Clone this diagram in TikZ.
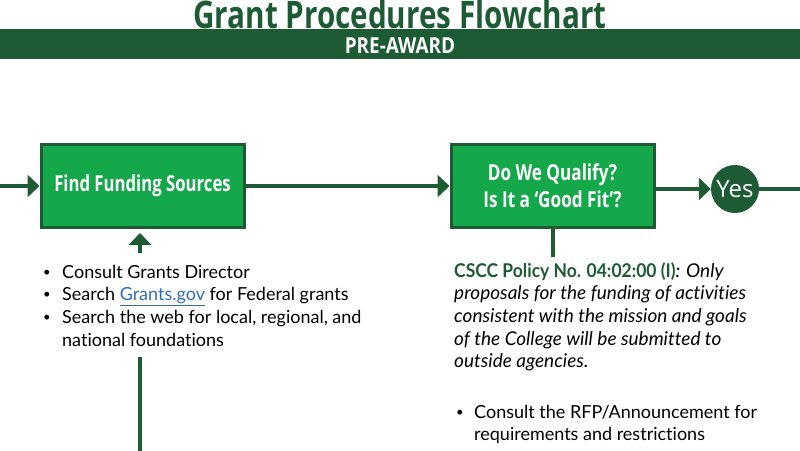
\documentclass[tikz,border=0pt]{standalone}
\usepackage{fontspec}
\setmainfont{Lato}[Ligatures=NoCommon]
\newfontfamily\headfont{Open Sans}
\usetikzlibrary{arrows.meta}
\definecolor{dkgreen}{HTML}{1D5B34}
\definecolor{brgreen}{HTML}{14A84B}
\definecolor{linkblue}{HTML}{2F6EB5}
\begin{document}
\begin{tikzpicture}[x=1pt,y=-1pt,
  stepbox/.style={draw=dkgreen, line width=3pt, fill=brgreen, minimum width=203pt, minimum height=83pt, inner sep=0pt, text=white, align=center, font=\headfont\bfseries\fontsize{22}{28}\selectfont},
  conn/.style={draw=dkgreen, line width=4pt},
  arr/.style={conn, -{Triangle[length=12pt,width=22pt]}},
  body/.style={anchor=base west, inner sep=0pt, font=\fontsize{18}{22.7}\selectfont},
  ital/.style={anchor=base west, inner sep=0pt, font=\itshape\fontsize{19}{22.7}\selectfont},
  bul/.style={anchor=base west, inner sep=0pt, font=\fontsize{13}{16}\selectfont}
]
\useasboundingbox (0,0) rectangle (800,450);
% banner
\fill[dkgreen] (0,29) rectangle (800,59);
\node[anchor=base, inner sep=0pt, text=dkgreen, font=\headfont\bfseries\fontsize{38}{40}\selectfont] (title) at (400,28) {\scalebox{0.78}[1]{Grant Procedures Flowchart}};
\node[anchor=base, inner sep=0pt, text=white, font=\headfont\bfseries\fontsize{22}{24}\selectfont] (pre) at (400,53) {\scalebox{0.86}[1]{PRE-AWARD}};

% boxes
\node[stepbox] (box1) at (142.5,186) {\scalebox{0.76}[1]{Find Funding Sources}};
\node[stepbox] (box2) at (552.5,186) {\scalebox{0.78}[1]{Do We Qualify?}\\[-1pt]\scalebox{0.78}[1]{Is It a ‘Good Fit’?}};
\node[circle, fill=dkgreen, minimum size=48pt, inner sep=0pt, text=white, font=\headfont\fontsize{24}{26}\selectfont] (yes) at (735,189) {Yes};

% connectors
\coordinate (lin) at (-2,186);
\draw[arr] (lin) -- (box1.west);
\draw[arr] (box1.east) -- (box2.west);
\draw[arr] (box2.east |- yes.west) -- (yes.west);
\coordinate (rout) at (802,189);
\draw[conn] (yes.east) -- (rout);
\coordinate (b2down) at (552.5,257);
\draw[conn] (box2.south) -- (b2down);
\coordinate (upS) at (140,253);
\coordinate (upT) at (140,233);
\draw[arr] (upS) -- (upT);
\coordinate (lowS) at (140,357);
\coordinate (lowE) at (140,452);
\draw[conn] (lowS) -- (lowE);

% left list
\node[bul] (lb1) at (43,276) {•};
\node[body] (l1) at (62,278) {Consult Grants Director};
\node[bul] (lb2) at (43,298.7) {•};
\node[body] (l2) at (62,300.7) {Search \textcolor{linkblue}{\underline{Grants.gov}} for Federal grants};
\node[bul] (lb3) at (43,321.4) {•};
\node[body] (l3) at (62,323.4) {Search the web for local, regional, and};
\node[body] (l4) at (62,346.1) {national foundations};

% right text
\node[ital] (r1) at (454,277) {\textcolor{dkgreen}{\upshape\bfseries\scalebox{0.92}[1]{CSCC Policy No. 04:02:00 (I)}}: Only};
\node[ital] (r2) at (454,299.7) {proposals for the funding of activities};
\node[ital] (r3) at (454,322.4) {consistent with the mission and goals};
\node[ital] (r4) at (454,345.1) {of the College will be submitted to};
\node[ital] (r5) at (454,367.8) {outside agencies.};
\node[bul] (rb1) at (456,416) {•};
\node[body] (r6) at (474,418) {Consult the RFP/Announcement for};
\node[body] (r7) at (474,440.7) {requirements and restrictions};
\end{tikzpicture}
\end{document}
